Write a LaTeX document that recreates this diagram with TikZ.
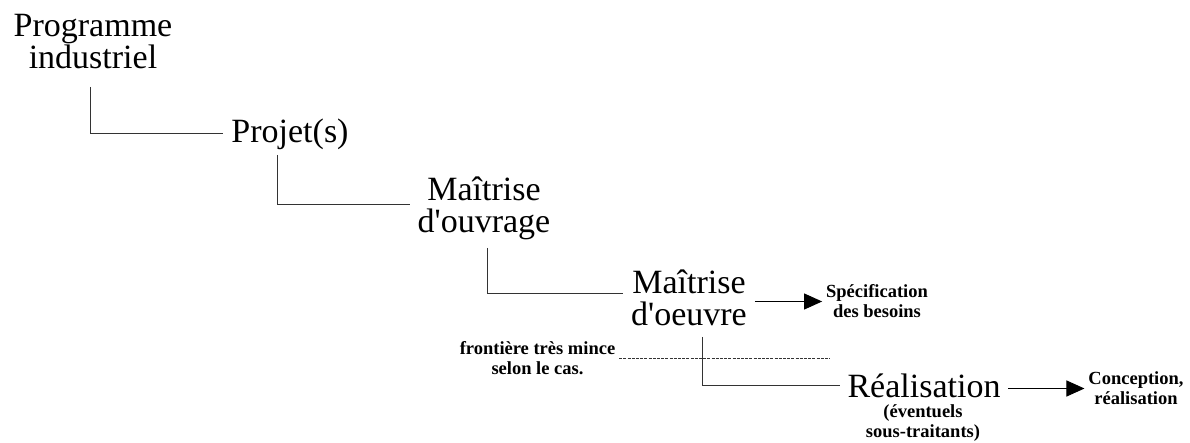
\documentclass[tikz,border=0pt]{standalone}
\usepackage{fontspec}
\setmainfont{Liberation Serif}
\usetikzlibrary{arrows.meta}
\begin{document}
\begin{tikzpicture}[x=0.5pt,y=-0.5pt,
  level/.style={font=\fontsize{17}{16}\selectfont, align=center, inner sep=4pt, outer sep=0pt},
  note/.style={font=\fontsize{9.25}{10}\selectfont\bfseries, align=center, inner sep=2pt, outer sep=0pt},
  link/.style={line width=0.5pt, draw=black!80},
  flow/.style={line width=0.5pt, -{Triangle[length=9pt,width=8pt]}},
  border/.style={line width=0.5pt, draw=black!80, dash pattern=on 1.5pt off 0.6pt}]
\useasboundingbox (0,0) rectangle (1190,443);

% hierarchy levels
\node[level] (prog) at (93,42) {Programme\\industriel};
\node[level] (proj) at (290,134) {Projet(s)};
\node[level] (mouv) at (484,208) {Maîtrise\\d\textquotesingle ouvrage};
\node[level] (moeu) at (689,297.5) {Maîtrise\\d\textquotesingle oeuvre};
\node[level] (real) at (924,385.5) {Réalisation};

% side notes
\node[note] (sub)   at (923,423)     {(éventuels\\sous-traitants)};
\node[note] (spec)  at (877,301.5)   {Spécification\\des besoins};
\node[note] (conc)  at (1136,388.5)  {Conception,\\réalisation};
\node[note] (front) at (537.5,358.5) {frontière très mince\\selon le cas.};

% elbow links between levels
\coordinate (t1) at (90,87);
\coordinate (t2) at (277,155);
\coordinate (t3) at (487,248);
\coordinate (t4) at (702,337);
\draw[link] (t1) |- (proj.west);
\draw[link] (t2) |- ([yshift=1.5pt]mouv.west);
\draw[link] (t3) |- ([yshift=1.75pt]moeu.west);
\draw[link] (t4) |- (real.west);

% outputs
\draw[flow] (moeu.east |- spec.west) -- (spec.west);
\draw[flow] (real.east |- conc.west) -- (conc.west);

% boundary line
\coordinate (fe) at (830,357);
\draw[border] (front.east) -- (front.east -| fe);
\end{tikzpicture}
\end{document}
